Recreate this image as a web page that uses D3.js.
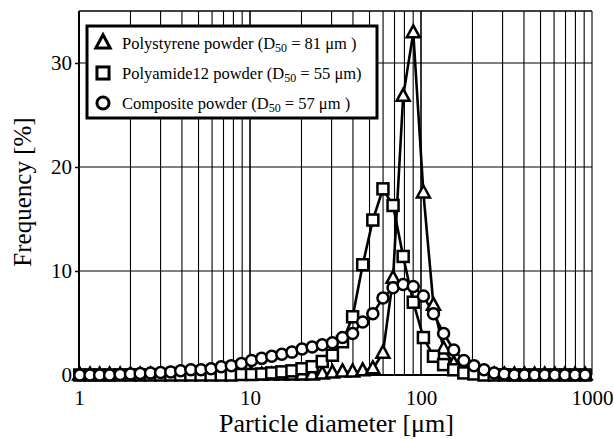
<!DOCTYPE html>
<html>
<head>
<meta charset="utf-8">
<script src="https://cdn.jsdelivr.net/npm/d3@7"></script>
<style>
  body { margin: 0; background: #fff; }
  text { font-family: "Liberation Serif", "Times New Roman", serif; fill: #000; }
</style>
</head>
<body>
<div id="chart"></div>
<script>
// particle size bins [um]
var diameters = [1.01, 1.16, 1.32, 1.51, 1.74, 2.00, 2.28, 2.62, 3.00, 3.44, 3.93, 4.51, 5.17, 5.92, 6.79,
  7.78, 8.91, 10.21, 11.70, 13.40, 15.35, 17.59, 20.15, 23.09, 26.46, 30.33, 34.75, 39.82, 45.62, 52.28,
  59.90, 68.64, 78.65, 90.11, 103.3, 118.3, 135.6, 155.4, 178.0, 204.0, 233.7, 267.8, 306.9, 351.6,
  402.9, 461.6, 528.9, 606.1, 694.5, 795.8, 911.8];

// frequency [%]
var polystyrene = [0, 0, 0, 0, 0, 0, 0, 0, 0, 0, 0, 0, 0, 0, 0,
  0, 0, 0, 0, 0, 0, 0, 0, 0, 0.1, 0.2, 0.3, 0.3, 0.4, 0.6,
  2.1, 9.3, 26.8, 32.9, 17.5, 6.7, 2.5, 1.1, 0.5, 0.2, 0.1, 0, 0, 0,
  0, 0, 0, 0, 0, 0, 0];
var polyamide = [0, 0, 0, 0, 0, 0, 0, 0, 0, 0, 0, 0, 0, 0, 0,
  0, 0.05, 0.05, 0.1, 0.2, 0.3, 0.4, 0.6, 0.8, 1.3, 1.9, 3.2, 5.6, 10.6, 14.9,
  17.9, 16.3, 11.4, 7.0, 3.6, 1.8, 1.0, 0.5, 0.2, 0.1, 0, 0, 0, 0,
  0, 0, 0, 0, 0, 0, 0];
var composite = [0, 0, 0, 0, 0.05, 0.1, 0.15, 0.2, 0.25, 0.3, 0.4, 0.5, 0.5, 0.6, 0.8,
  0.9, 1.1, 1.4, 1.6, 1.8, 2.0, 2.2, 2.5, 2.7, 2.9, 3.1, 3.6, 4.0, 5.1, 5.9,
  7.4, 8.4, 8.7, 8.5, 7.6, 5.9, 4.0, 2.4, 1.4, 0.9, 0.5, 0.2, 0.1, 0,
  0, 0, 0, 0, 0, 0, 0];

var seriesNames = ["Polystyrene powder", "Polyamide12 powder", "Composite powder"];
var d50 = ["81", "55", "57"];
var d50Tail = [" \u03bcm )", " \u03bcm)", " \u03bcm )"];
var xTicks = [1, 10, 100, 1000];
var yTicks = [0, 10, 20, 30];

var svgWidth = 614;
var svgHeight = 439;
var margin = { top: 11, right: 22, bottom: 64, left: 79 };
var width = svgWidth - margin.left - margin.right;
var height = svgHeight - margin.top - margin.bottom;

var svg = d3.select("#chart")
  .append("svg")
  .attr("width", svgWidth)
  .attr("height", svgHeight);

var chartGroup = svg.append("g")
  .attr("transform", `translate(${margin.left}, ${margin.top})`);

var x = d3.scaleLog().domain([1, 1000]).range([0, width]);
var y = d3.scaleLinear().domain([0, 35]).range([height, 0]);

// log grid lines
var minor = [];
for (var e = 0; e < 3; e++) {
  for (var m = 1; m <= 10; m++) minor.push(m * Math.pow(10, e));
}
chartGroup.selectAll(".vgrid")
  .data(minor)
  .enter()
  .append("line")
  .attr("x1", d => x(d)).attr("x2", d => x(d))
  .attr("y1", 0).attr("y2", height)
  .attr("stroke", "#000").attr("stroke-width", 1.1);

chartGroup.selectAll(".hgrid")
  .data([10, 20, 30])
  .enter()
  .append("line")
  .attr("x1", 0).attr("x2", width)
  .attr("y1", d => y(d)).attr("y2", d => y(d))
  .attr("stroke", "#000").attr("stroke-width", 1.1);

// frame
chartGroup.append("line").attr("x1", 0).attr("x2", width).attr("y1", 0).attr("y2", 0)
  .attr("stroke", "#000").attr("stroke-width", 1.5);
chartGroup.append("line").attr("x1", 0).attr("x2", 0).attr("y1", 0).attr("y2", height)
  .attr("stroke", "#000").attr("stroke-width", 2);
chartGroup.append("line").attr("x1", 0).attr("x2", width).attr("y1", height).attr("y2", height)
  .attr("stroke", "#000").attr("stroke-width", 2);

// axes
var bottomAxis = d3.axisBottom(x).tickValues(xTicks).tickFormat(d3.format("d")).tickSize(0).tickPadding(15);
var leftAxis = d3.axisLeft(y).tickValues(yTicks).tickSize(4).tickPadding(3);

var gx = chartGroup.append("g")
  .attr("transform", `translate(0, ${height})`)
  .call(bottomAxis);
var gy = chartGroup.append("g").call(leftAxis);
[gx, gy].forEach(function(g) {
  g.select(".domain").remove();
  g.selectAll("text").attr("font-size", 21).attr("font-family", "Liberation Serif");
  g.selectAll("line").attr("stroke", "#000").attr("stroke-width", 1.5);
});

// series
var series = [
  { values: polystyrene, shape: "triangle" },
  { values: polyamide, shape: "square" },
  { values: composite, shape: "circle" }
];

var line = d3.line()
  .x(d => x(d[0]))
  .y(d => y(d[1]));

function drawMarker(g, shape, big) {
  var s = big ? 1.1 : 1;
  if (shape === "triangle") {
    g.append("path").attr("d", `M0,${-7.5 * s}L${6.5 * s},${4.5 * s}L${-6.5 * s},${4.5 * s}Z`);
  } else if (shape === "square") {
    g.append("rect").attr("x", -5.5 * s).attr("y", -5.5 * s).attr("width", 11 * s).attr("height", 11 * s);
  } else {
    g.append("circle").attr("r", 5.5 * s);
  }
}

series.forEach(function(s) {
  var pts = diameters.map((d, i) => [d, s.values[i]]);
  chartGroup.append("path")
    .datum(pts)
    .attr("fill", "none")
    .attr("stroke", "#000")
    .attr("stroke-width", 2.6)
    .attr("d", line);
});

series.forEach(function(s) {
  var pts = diameters.map((d, i) => [d, s.values[i]]);
  var marks = chartGroup.selectAll(".m-" + s.shape)
    .data(pts)
    .enter()
    .append("g")
    .attr("transform", d => `translate(${x(d[0])}, ${y(d[1])})`)
    .attr("fill", "#fff")
    .attr("stroke", "#000")
    .attr("stroke-width", 2.5);
  marks.each(function() { drawMarker(d3.select(this), s.shape, false); });
});

// legend
var legend = svg.append("g").attr("transform", "translate(87, 26)");
legend.append("rect")
  .attr("x", 0).attr("y", 0)
  .attr("width", 290).attr("height", 92)
  .attr("fill", "#fff")
  .attr("stroke", "#000")
  .attr("stroke-width", 3);

series.forEach(function(s, i) {
  var row = legend.append("g").attr("transform", `translate(0, ${17 + i * 30})`);
  var mk = row.append("g")
    .attr("transform", "translate(16, 0)")
    .attr("fill", "#fff").attr("stroke", "#000").attr("stroke-width", 3);
  drawMarker(mk, s.shape, true);
  var t = row.append("text")
    .attr("x", 35)
    .attr("y", 6)
    .attr("font-size", 16.5);
  t.append("tspan").text(seriesNames[i] + " (D");
  t.append("tspan").attr("font-size", 12).attr("dy", 3).text("50");
  t.append("tspan").attr("dy", -3).text(" = " + d50[i] + d50Tail[i]);
});

// axis labels
svg.append("text")
  .attr("x", margin.left + width / 2 + 1)
  .attr("y", 432)
  .attr("text-anchor", "middle")
  .attr("font-size", 26)
  .text("Particle diameter [\u03bcm]");

svg.append("text")
  .attr("transform", `translate(31, ${192}) rotate(-90)`)
  .attr("text-anchor", "middle")
  .attr("font-size", 25)
  .text("Frequency [%]");
</script>
</body>
</html>
